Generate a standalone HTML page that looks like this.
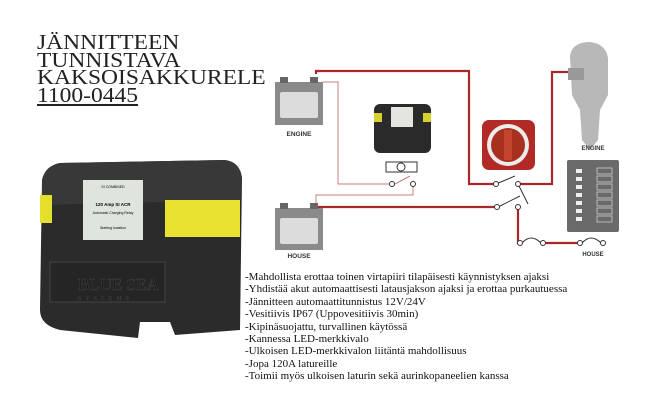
<!DOCTYPE html>
<html><head><meta charset="utf-8"><style>
body{margin:0;background:#fff;width:650px;height:418px;overflow:hidden;position:relative;font-family:"Liberation Serif",serif}
.t{position:absolute;left:37px;top:34px;font-size:21px;line-height:17.5px;color:#222;transform:scaleX(1.12);transform-origin:left top;letter-spacing:0}
.l{position:absolute;left:245px;top:271px;font-size:11px;line-height:12.4px;color:#111}
</style></head><body>
<div class="t">JÄNNITTEEN<br>TUNNISTAVA<br>KAKSOISAKKURELE<br><span style="text-decoration:underline">1100-0445</span></div>
<svg width="650" height="418" style="position:absolute;left:0;top:0">
<path d="M42 180 Q45 166 60 163 L225 160 Q240 162 242 178 L240 330 L175 335 L170 322 L140 322 L138 338 L60 330 Q40 325 40 310 Z" fill="#2b2b2b"/>
<path d="M42 180 Q45 166 60 163 L225 160 Q240 162 242 178 L240 200 L42 205 Z" fill="#383838"/>
<rect x="40" y="195" width="12" height="28" fill="#e3df2a"/>
<rect x="165" y="200" width="75" height="37" fill="#e8e230"/>
<rect x="83" y="180" width="60" height="60" fill="#dfe5dc"/>
<text x="113" y="188" font-size="3.5" text-anchor="middle" font-family="Liberation Sans">SI COMBINED</text>
<text x="113" y="206" font-size="4.5" text-anchor="middle" font-family="Liberation Sans" font-weight="bold">120 Amp SI ACR</text>
<text x="113" y="214" font-size="3.5" text-anchor="middle" font-family="Liberation Sans">Automatic Charging Relay</text>
<text x="113" y="229" font-size="3.5" text-anchor="middle" font-family="Liberation Sans">Starting Isolation</text>
<rect x="50" y="262" width="115" height="40" fill="#252525" stroke="#444"/>
<text x="78" y="290" font-size="17" fill="#151515" stroke="#3e3e3e" stroke-width="0.6">BLUE SEA</text>
<text x="78" y="300" font-size="6" fill="#444" letter-spacing="4">SYSTEMS</text>
<g fill="none" stroke-width="2.2" stroke="#a8282a">
<path d="M316 74 V71 H469 V184 H496"/>
<path d="M518 184 H552 V72 H572"/>
<path d="M317 207 H497"/>
<path d="M518 207 V243 H520"/>
<path d="M543 243 H580"/>
</g>
<g fill="none" stroke="#c48080" stroke-width="1">
<path d="M323 82 H338 V184 H392"/>
<path d="M413 184 V195 H316 V203"/>
<path d="M395 184 L410 176"/>
<path d="M496 184 L515 176 M498 207 L520 196 M518 184 L528 204" stroke="#333"/>
<path d="M522 243 Q531 233 541 243 M582 243 Q591 233 601 243" stroke="#333"/>
</g>
<g fill="#fff" stroke="#333" stroke-width="1">
<circle cx="392" cy="184" r="2.5"/><circle cx="413" cy="184" r="2.5"/>
<circle cx="496" cy="184" r="2.5"/><circle cx="518" cy="184" r="2.5"/>
<circle cx="497" cy="207" r="2.5"/><circle cx="518" cy="207" r="2.5"/>
<circle cx="520" cy="243" r="2.5"/><circle cx="543" cy="243" r="2.5"/>
<circle cx="580" cy="243" r="2.5"/><circle cx="603" cy="243" r="2.5"/>
<rect x="386" y="162" width="31" height="10"/><circle cx="401" cy="167" r="4"/>
</g>
<g>
<rect x="275" y="82" width="48" height="43" fill="#8a8a8a"/><rect x="280" y="92" width="38" height="26" fill="#dcdcdc" rx="2"/>
<rect x="280" y="77" width="8" height="6" fill="#666"/><rect x="310" y="77" width="8" height="6" fill="#666"/>
<text x="299" y="136" font-size="6.5" text-anchor="middle" font-family="Liberation Sans" font-weight="bold" fill="#333">ENGINE</text>
<rect x="275" y="208" width="48" height="42" fill="#8a8a8a"/><rect x="280" y="218" width="38" height="26" fill="#dcdcdc" rx="2"/>
<rect x="280" y="203" width="8" height="6" fill="#666"/><rect x="310" y="203" width="8" height="6" fill="#666"/>
<text x="299" y="258" font-size="6.5" text-anchor="middle" font-family="Liberation Sans" font-weight="bold" fill="#333">HOUSE</text>
</g>
<rect x="374" y="104" width="57" height="49" rx="6" fill="#2a2a2a"/>
<rect x="374" y="113" width="8" height="9" fill="#d8d030"/><rect x="423" y="113" width="8" height="9" fill="#d8d030"/>
<rect x="391" y="107" width="22" height="20" fill="#e4e4e0"/>
<rect x="482" y="120" width="53" height="50" rx="7" fill="#b22a25"/>
<circle cx="508" cy="145" r="21" fill="#ececec"/><circle cx="508" cy="145" r="17" fill="#a8301f"/>
<rect x="504" y="130" width="8" height="30" fill="#c4442e"/>
<path d="M570 56 Q572 42 590 42 Q606 44 608 58 L608 95 L600 110 L598 140 L590 150 L582 140 L580 110 L572 95 Z" fill="#b8b8b8"/>
<path d="M568 68 H584 V80 H568 Z" fill="#999"/>
<text x="593" y="150" font-size="6" text-anchor="middle" font-family="Liberation Sans" font-weight="bold" fill="#333">ENGINE</text>
<rect x="567" y="160" width="52" height="72" rx="2" fill="#6a6a6a"/>
<g fill="none" stroke="#ccc" stroke-width="0.8">
<rect x="597" y="168" width="15" height="6"/><rect x="597" y="176" width="15" height="6"/><rect x="597" y="184" width="15" height="6"/><rect x="597" y="192" width="15" height="6"/><rect x="597" y="200" width="15" height="6"/><rect x="597" y="208" width="15" height="6"/><rect x="597" y="216" width="15" height="6"/>
</g>
<g fill="#eee"><rect x="576" y="169" width="6" height="4"/><rect x="576" y="177" width="6" height="4"/><rect x="576" y="185" width="6" height="4"/><rect x="576" y="193" width="6" height="4"/><rect x="576" y="201" width="6" height="4"/><rect x="576" y="209" width="6" height="4"/><rect x="576" y="217" width="6" height="4"/></g>
<text x="593" y="256" font-size="6" text-anchor="middle" font-family="Liberation Sans" font-weight="bold" fill="#333">HOUSE</text>
</svg>
<div class="l">-Mahdollista erottaa toinen virtapiiri tilapäisesti käynnistyksen ajaksi<br>-Yhdistää akut automaattisesti latausjakson ajaksi ja erottaa purkautuessa<br>-Jännitteen automaattitunnistus 12V/24V<br>-Vesitiivis IP67 (Uppovesitiivis 30min)<br>-Kipinäsuojattu, turvallinen käytössä<br>-Kannessa LED-merkkivalo<br>-Ulkoisen LED-merkkivalon liitäntä mahdollisuus<br>-Jopa 120A latureille<br>-Toimii myös ulkoisen laturin sekä aurinkopaneelien kanssa</div>
</body></html>
